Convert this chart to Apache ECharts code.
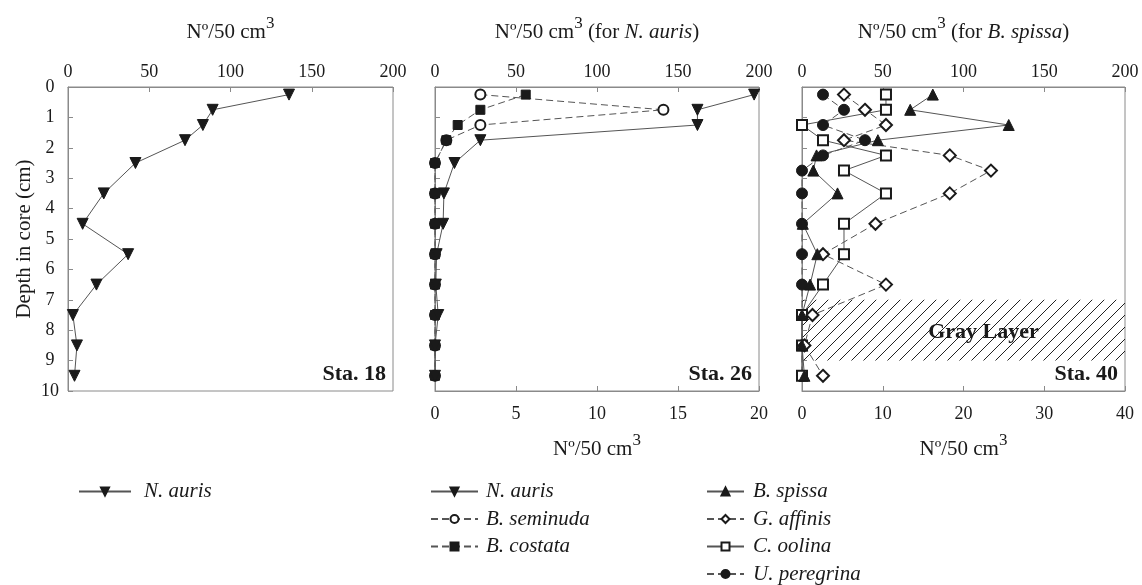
<!DOCTYPE html>
<html>
<head>
<meta charset="utf-8">
<script src="https://cdn.jsdelivr.net/npm/echarts@6/dist/echarts.min.js"></script>
<style>
html,body{margin:0;padding:0;background:#fff;}
#main{width:1142px;height:585px;}
</style>
</head>
<body>
<div id="main"></div>
<script>
// depth of each sample (cm)
var depths18 = [0.25, 0.75, 1.25, 1.75, 2.5, 3.5, 4.5, 5.5, 6.5, 7.5, 8.5, 9.5];
var depths26 = [0.25, 0.75, 1.25, 1.75, 2.5, 3.5, 4.5, 5.5, 6.5, 7.5, 8.5, 9.5];
var depths40 = [0.25, 0.75, 1.25, 1.75, 2.25, 2.75, 3.5, 4.5, 5.5, 6.5, 7.5, 8.5, 9.5];

// Sta. 18
var nAuris18 = [136, 89, 83, 72, 41.5, 22, 9, 37, 17.5, 3, 5.5, 4];
// Sta. 26 (N. auris on top axis 0-200, others on bottom axis 0-20)
var nAuris26 = [197, 162, 162, 28, 12, 5.5, 5, 1, 0.5, 2, 0, 0];
var bSeminuda26 = [2.8, 14.1, 2.8, 0.7, 0, 0, 0, 0, 0, 0, 0, 0];
var bCostata26 = [5.6, 2.8, 1.4, 0.7, 0, 0, 0, 0, 0, 0, 0, 0];
// Sta. 40 (B. spissa on top axis 0-200, others on bottom axis 0-40)
var bSpissa40 = [81, 67, 128, 47, 9, 7, 22, 0.5, 9.5, 5, 0, 0, 1.5];
var gAffinis40 = [5.2, 7.8, 10.4, 5.2, 18.3, 23.4, 18.3, 9.1, 2.6, 10.4, 1.3, 0.3, 2.6];
var cOolina40 = [10.4, 10.4, 0, 2.6, 10.4, 5.2, 10.4, 5.2, 5.2, 2.6, 0, 0, 0];
var uPeregrina40 = [2.6, 5.2, 2.6, 7.8, 2.6, 0, 0, 0, 0, 0, 0, 0, 0];

var grayLayer = [7, 9];
var stations = ['Sta. 18', 'Sta. 26', 'Sta. 40'];

var FONT = 'Liberation Serif';
var INK = '#1a1a1a';
var LINE = '#555';
var FRAME = '#8a8a8a';

function pairs(xs, ys){
    var out = [];
    for(var i=0;i<xs.length;i++){
        out.push([xs[i], ys[i]]);
    }
    return out;
}

// hatch for the gray layer
function hatch(){
    var c = document.createElement('canvas');
    c.width = 12; c.height = 12;
    var g = c.getContext('2d');
    g.strokeStyle = '#222';
    g.lineWidth = 1;
    g.beginPath();
    g.moveTo(0, 12); g.lineTo(12, 0);
    g.moveTo(-2, 2); g.lineTo(2, -2);
    g.moveTo(10, 14); g.lineTo(14, 10);
    g.stroke();
    return c;
}

var grids = [
    {left: 68, top: 87, width: 325, height: 304},
    {left: 435, top: 87, width: 324, height: 304},
    {left: 802, top: 87, width: 323, height: 304}
];
grids.forEach(function(g){ g.show = true; g.borderColor = FRAME; g.borderWidth = 1; });

// tall line box for the normal text so the small "3" sits high
var rich = {
    n: {fontFamily: FONT, fontSize: 21, lineHeight: 28, color: INK, verticalAlign: 'bottom'},
    it: {fontFamily: FONT, fontSize: 21, lineHeight: 28, color: INK, fontStyle: 'italic', verticalAlign: 'bottom'},
    sup: {fontFamily: FONT, fontSize: 17, lineHeight: 17, color: INK, verticalAlign: 'top'}
};

function xAx(gridIndex, pos, max, interval, name){
    return {
        type: 'value', gridIndex: gridIndex, position: pos,
        min: 0, max: max, interval: interval,
        name: name, nameLocation: 'middle', nameGap: pos == 'top' ? 44 : 41,
        nameTextStyle: {fontFamily: FONT, fontSize: 21, color: INK, rich: rich},
        axisLine: {show: true, lineStyle: {color: FRAME}},
        axisTick: {show: true, inside: true, length: 5, lineStyle: {color: FRAME}},
        axisLabel: {fontFamily: FONT, fontSize: 18, color: INK, margin: pos == 'top' ? 6 : 14},
        splitLine: {show: false}
    };
}

function yAx(gridIndex, labels){
    return {
        type: 'value', gridIndex: gridIndex, inverse: true,
        min: 0, max: 10, interval: 1,
        name: labels ? 'Depth in core (cm)' : '',
        nameLocation: 'middle', nameGap: 33,
        nameTextStyle: {fontFamily: FONT, fontSize: 21, color: INK},
        axisLine: {show: true, lineStyle: {color: FRAME}},
        axisTick: {show: true, inside: true, length: 5, lineStyle: {color: FRAME}},
        axisLabel: {show: labels, fontFamily: FONT, fontSize: 18, color: INK, align: 'center', margin: 18},
        splitLine: {show: false}
    };
}

var title = '{n|N\u00ba/50 cm}{sup|3}';
var xAxes = [
    xAx(0, 'top', 200, 50, title),
    xAx(1, 'top', 200, 50, title + '{n| (for }{it|N. auris}{n|)}'),
    xAx(1, 'bottom', 20, 5, title),
    xAx(2, 'top', 200, 50, title + '{n| (for }{it|B. spissa}{n|)}'),
    xAx(2, 'bottom', 40, 10, title)
];
var yAxes = [yAx(0, true), yAx(1, false), yAx(2, false)];

function ser(name, xi, yi, xs, ys, symbol, dashed, extra){
    var s = {
        name: name, type: 'line', xAxisIndex: xi, yAxisIndex: yi,
        data: pairs(xs, ys),
        symbol: symbol, symbolSize: 10,
        lineStyle: {color: LINE, width: 1, type: dashed ? [7, 4] : 'solid'},
        itemStyle: {color: INK, borderColor: INK, borderWidth: 1},
        animation: false
    };
    for(var k in extra){ s[k] = extra[k]; }
    return s;
}

var series = [
    ser('N. auris', 0, 0, nAuris18, depths18, 'triangle', false, {symbolRotate: 180, symbolSize: 11}),

    ser('B. seminuda', 2, 1, bSeminuda26, depths26, 'emptyCircle', true, {}),
    ser('B. costata', 2, 1, bCostata26, depths26, 'rect', true, {symbolSize: 9}),
    ser('N. auris ', 1, 1, nAuris26, depths26, 'triangle', false, {symbolRotate: 180, symbolSize: 11}),

    ser('U. peregrina', 4, 2, uPeregrina40, depths40, 'circle', true, {symbolSize: 11}),
    ser('C. oolina', 4, 2, cOolina40, depths40, 'emptyRect', false, {symbolSize: 10,
        markArea: {
            silent: true,
            itemStyle: {color: {image: hatch(), repeat: 'repeat'}, opacity: 1},
            label: {show: true, position: 'inside', offset: [20, 2],
                fontFamily: FONT, fontSize: 22, fontWeight: 'bold', color: INK},
            data: [[{name: 'Gray Layer', xAxis: 0, yAxis: grayLayer[0]}, {xAxis: 40, yAxis: grayLayer[1]}]]
        }}),
    ser('G. affinis', 4, 2, gAffinis40, depths40, 'emptyDiamond', true, {symbolSize: 12}),
    ser('B. spissa', 3, 2, bSpissa40, depths40, 'triangle', false, {symbolSize: 11})
];

var legendText = {fontFamily: FONT, fontSize: 21, fontStyle: 'italic', color: INK};
function leg(left, width, pad, names){
    return {
        orient: 'vertical', left: left, top: 481, padding: 0,
        itemWidth: width, itemHeight: 10, itemGap: 6.5,
        textStyle: Object.assign({padding: [0, 0, 0, pad]}, legendText),
        data: names, selectedMode: false
    };
}

var graphics = [];
stations.forEach(function(st, i){
    graphics.push({
        type: 'text', x: grids[i].left + grids[i].width - 7, y: 374,
        style: {text: st, fontFamily: FONT, fontSize: 22, fontWeight: 'bold', fill: INK,
            textAlign: 'right', textVerticalAlign: 'middle'}
    });
});

var myChart = echarts.init(document.getElementById('main'));
myChart.setOption({
    backgroundColor: '#fff',
    animation: false,
    grid: grids,
    xAxis: xAxes,
    yAxis: yAxes,
    legend: [
        leg(78, 52, 8, ['N. auris']),
        leg(430, 47, 3, ['N. auris ', 'B. seminuda', 'B. costata']),
        leg(706, 37, 4, ['B. spissa', 'G. affinis', 'C. oolina', 'U. peregrina'])
    ],
    graphic: graphics,
    series: series
});
</script>
</body>
</html>
